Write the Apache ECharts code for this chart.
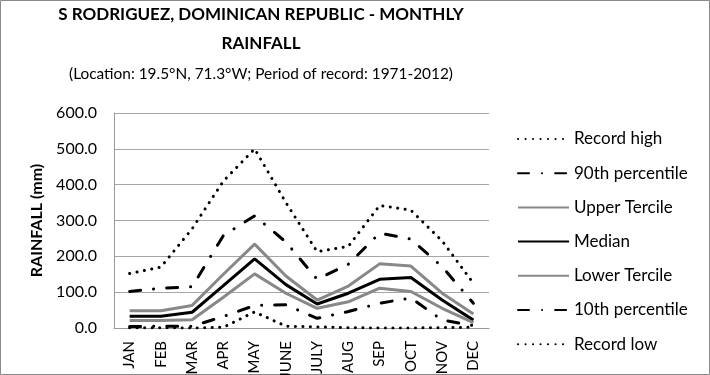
<!DOCTYPE html>
<html>
<head>
<meta charset="utf-8">
<script src="https://cdn.jsdelivr.net/npm/echarts@6/dist/echarts.min.js"></script>
<style>
html,body{margin:0;padding:0;background:#fff;}
#c{width:710px;height:375px;}
</style>
</head>
<body>
<div id="c"></div>
<script>
const months = ['JAN','FEB','MAR','APR','MAY','JUNE','JULY','AUG','SEP','OCT','NOV','DEC'];
const yTicks = [0, 100, 200, 300, 400, 500, 600];
const recordHigh = [152, 170, 277, 410, 500, 350, 213, 228, 342, 329, 243, 125];
const pct90 = [102, 111, 115, 258, 313, 240, 136, 178, 265, 248, 171, 69];
const upperTercile = [48, 48, 63, 150, 234, 145, 78, 117, 179, 173, 97, 39];
const median = [33, 33, 44, 118, 193, 121, 67, 97, 136, 141, 78, 22];
const lowerTercile = [21, 21, 23, 86, 151, 97, 55, 73, 111, 102, 55, 15];
const pct10 = [4, 5, 5, 32, 63, 65, 27, 46, 69, 84, 22, 7];
const recordLow = [1, 1, 0, 2, 45, 5, 3, 1, 0, 0, 1, 2];

const FONT = 'Lato, "Open Sans", sans-serif';
const dotted = {color:'#000', width:3, type:[0.1, 7.4], cap:'round'};
const dashDot = {color:'#000', width:3, type:[11, 13, 0.1, 13], cap:'round'};
const grey = {color:'#888', width:3, type:'solid'};
const black = {color:'#000', width:3, type:'solid'};

function mk(name, data, ls) {
  return {name, type:'line', data, symbol:'none', showSymbol:false, lineStyle:ls, itemStyle:{color:ls.color}, animation:false, z:2};
}

const chart = echarts.init(document.getElementById('c'), null, {renderer:'canvas'});
chart.setOption({
  animation:false,
  backgroundColor:'#fff',
  graphic:[
    {type:'rect', shape:{x:0.5,y:0.5,width:709,height:374}, style:{fill:null, stroke:'#8a8a8a', lineWidth:1}, silent:true},
    {type:'text', x:261, y:15, style:{text:'S RODRIGUEZ, DOMINICAN REPUBLIC - MONTHLY', font:'bold 17px '+FONT, fill:'#000', textAlign:'center', textVerticalAlign:'middle'}},
    {type:'text', x:261, y:44, style:{text:'RAINFALL', font:'bold 17px '+FONT, fill:'#000', textAlign:'center', textVerticalAlign:'middle'}},
    {type:'text', x:261, y:74, style:{text:'(Location: 19.5°N, 71.3°W; Period of record: 1971-2012)', font:'15.4px '+FONT, fill:'#000', textAlign:'center', textVerticalAlign:'middle'}}
  ],
  grid:{left:114, right:221, top:113, bottom:47, containLabel:false, outerBoundsMode:'none'},
  legend:{
    orient:'vertical', left:517, top:130.5, padding:0, itemWidth:51, itemHeight:17, itemGap:17.2,
    itemStyle:{opacity:0},
    textStyle:{fontFamily:FONT, fontSize:17, color:'#000', lineHeight:17},
    data:['Record high','90th percentile','Upper Tercile','Median','Lower Tercile','10th percentile','Record low']
  },
  xAxis:{
    type:'category', data:months, boundaryGap:true,
    axisLine:{show:true, lineStyle:{color:'#999', width:1}},
    axisTick:{show:false},
    axisLabel:{rotate:90, margin:13, fontFamily:FONT, fontSize:15, color:'#000', interval:0}
  },
  yAxis:{
    type:'value', min:yTicks[0], max:yTicks[yTicks.length-1], interval:100,
    name:'RAINFALL (mm)', nameLocation:'middle', nameRotate:90, nameGap:67,
    nameTextStyle:{fontFamily:FONT, fontSize:16, fontWeight:'bold', color:'#000'},
    axisLine:{show:true, lineStyle:{color:'#999', width:1}},
    axisTick:{show:false},
    axisLabel:{margin:17, fontFamily:FONT, fontSize:16, color:'#000', formatter:v=>v.toFixed(1)},
    splitLine:{show:true, lineStyle:{color:'#a6a6a6', width:1}}
  },
  series:[
    mk('Record high', recordHigh, dotted),
    mk('90th percentile', pct90, dashDot),
    mk('Upper Tercile', upperTercile, grey),
    mk('Median', median, black),
    mk('Lower Tercile', lowerTercile, grey),
    mk('10th percentile', pct10, dashDot),
    mk('Record low', recordLow, dotted)
  ]
});
</script>
</body>
</html>
